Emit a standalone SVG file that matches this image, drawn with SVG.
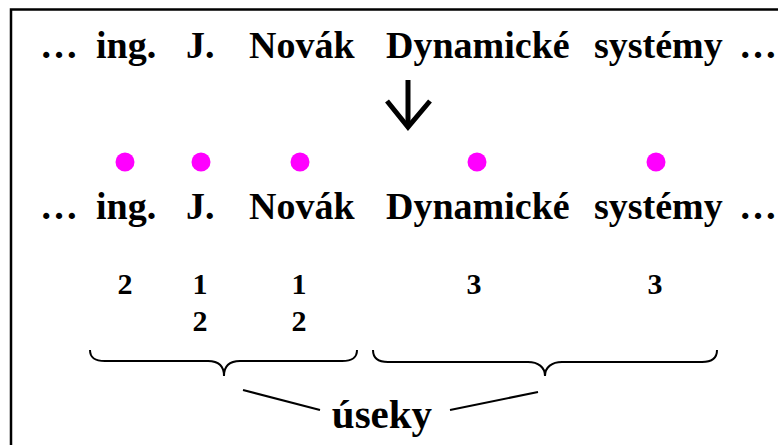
<svg xmlns="http://www.w3.org/2000/svg" width="778" height="445" viewBox="0 0 778 445">
  <style>
    text { font-family: 'Liberation Serif', 'Times New Roman', serif; font-weight: bold; fill: #000; }
    .w { font-size: 38px; }
    .n { font-size: 30px; text-anchor: middle; }
    .lbl { font-size: 41px; text-anchor: middle; }
    .dot { fill: #FF00FF; }
    .ln { fill: none; stroke: #000; stroke-width: 2; }
  </style>
  <rect width="778" height="445" fill="#fff"/>
  <!-- outer frame, open to the right and bottom -->
  <path d="M11,450 V9.5 H790" fill="none" stroke="#000" stroke-width="2.5"/>

  <!-- source text -->
  <g id="source-text">
    <text class="w" x="40" y="58">…</text>
    <text class="w" x="96" y="58">ing.</text>
    <text class="w" x="186" y="58">J.</text>
    <text class="w" x="249" y="58">Novák</text>
    <text class="w" x="386" y="58">Dynamické</text>
    <text class="w" x="594" y="58">systémy</text>
    <text class="w" x="739" y="58">…</text>
  </g>

  <!-- down arrow -->
  <g id="arrow" fill="none" stroke="#000" stroke-width="5">
    <path d="M408,80 V126"/>
    <path d="M387,101 L408,127 L430,101"/>
  </g>

  <!-- token markers -->
  <g id="markers">
    <circle class="dot" cx="125" cy="162" r="9.5"/>
    <circle class="dot" cx="201" cy="162" r="9.5"/>
    <circle class="dot" cx="300" cy="162" r="9.5"/>
    <circle class="dot" cx="477" cy="162" r="9.5"/>
    <circle class="dot" cx="656" cy="162" r="9.5"/>
  </g>

  <!-- tokenised text -->
  <g id="tokens">
    <text class="w" x="40" y="219">…</text>
    <text class="w" x="96" y="219">ing.</text>
    <text class="w" x="186" y="219">J.</text>
    <text class="w" x="249" y="219">Novák</text>
    <text class="w" x="386" y="219">Dynamické</text>
    <text class="w" x="594" y="219">systémy</text>
    <text class="w" x="739" y="219">…</text>
  </g>

  <!-- segment counts -->
  <g id="counts">
    <text class="n" x="125" y="294">2</text>
    <text class="n" x="200" y="294">1</text>
    <text class="n" x="299" y="294">1</text>
    <text class="n" x="474" y="294">3</text>
    <text class="n" x="655" y="294">3</text>
    <text class="n" x="200" y="331">2</text>
    <text class="n" x="299" y="331">2</text>
  </g>

  <!-- braces and pointers -->
  <g id="connectors" class="ln">
    <path d="M90,350 C90,358 95,361 105,361 H208 C218,361 224,366 224,376 C224,366 230,361 240,361 H342 C352,361 357,358 357,350"/>
    <path d="M373,350 C373,358 378,362 388,362 H528 C538,362 545,367 545,376 C545,367 552,362 562,362 H702 C712,362 717,358 717,350"/>
    <path d="M243,390 L320,410"/>
    <path d="M450,410 L538,392"/>
  </g>

  <g id="label">
    <text class="lbl" x="382" y="428">úseky</text>
  </g>
</svg>
